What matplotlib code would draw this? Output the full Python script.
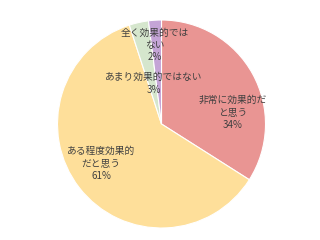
import matplotlib
matplotlib.use("Agg")
import matplotlib.pyplot as plt

plt.rcParams['font.family'] = ['Noto Sans CJK JP', 'DejaVu Sans']

# Data
labels = ["非常に効果的だ\nと思う", "ある程度効果的\nだと思う", "あまり効果的ではない", "全く効果的では\nない"]
values = [34, 61, 3, 2]
colors = ["#E99593", "#FEDF9A", "#D5E6CD", "#C4A4D6"]

# label placement (axes data units, pie radius = 1)
label_pos = [(0.68, 0.11), (-0.58, -0.38), (-0.07, 0.39), (-0.06, 0.76)]

fig = plt.figure(figsize=(3.2, 2.4), dpi=100)
cx, cy, r = 161.5, 124, 104
ax = fig.add_axes([(cx - r) / 320, (240 - cy - r) / 240, 2 * r / 320, 2 * r / 240])

ax.pie(values, colors=colors, startangle=90, counterclock=False,
       wedgeprops=dict(edgecolor="white", linewidth=0.8))
ax.set_xlim(-1, 1)
ax.set_ylim(-1, 1)
ax.set_aspect("equal")

total = sum(values)
for lab, v, (x, y) in zip(labels, values, label_pos):
    ax.text(x, y, f"{lab}\n{v / total * 100:.0f}%", ha="center", va="center",
            fontsize=7, color="#404040", linespacing=1.3)

fig.savefig("out.png", dpi=100)
